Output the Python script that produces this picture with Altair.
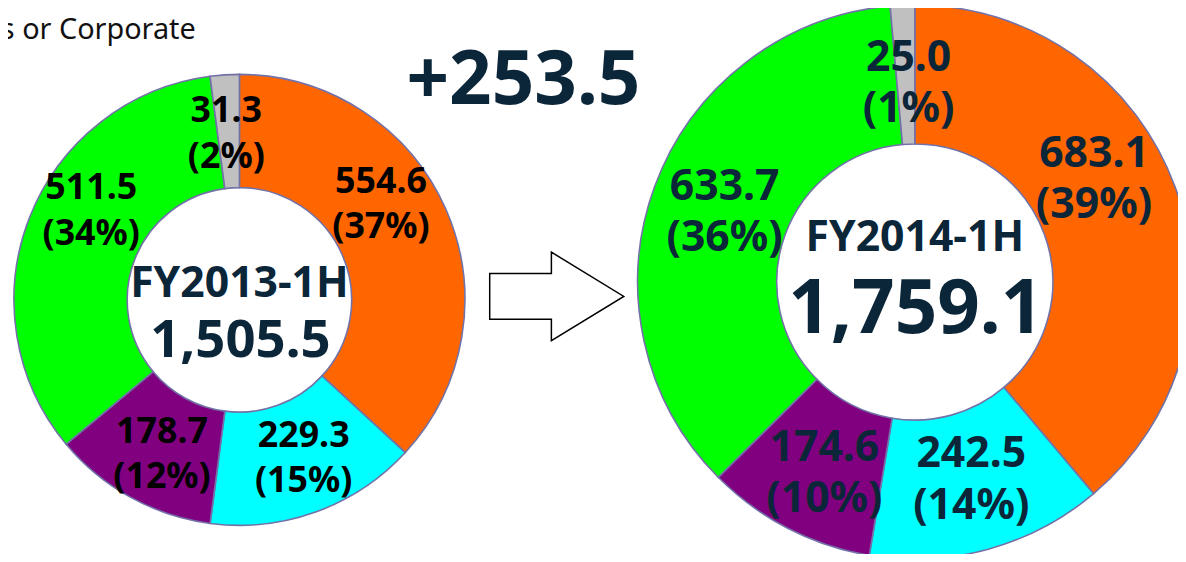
import altair as alt
import pandas as pd

# ---- data ----
segments = ["Orange", "Cyan", "Purple", "Green", "Gray"]
colors = ["#FF6600", "#00FFFF", "#800080", "#00FF00", "#C0C0C0"]
values_2013 = [554.6, 229.3, 178.7, 511.5, 31.3]
shares_2013 = [37, 15, 12, 34, 2]
values_2014 = [683.1, 242.5, 174.6, 633.7, 25.0]
shares_2014 = [39, 14, 10, 36, 1]
periods = ["FY2013-1H", "FY2014-1H"]
totals = [1505.5, 1759.1]
change = 253.5
legend_lines = ["Environment & Infrastructure", "Eliminations or Corporate"]

FONT = "Noto Sans"
NAVY = "#0B2539"
STROKE = "#7272A8"

rows = []
for period, vals, shares in [(periods[0], values_2013, shares_2013),
                             (periods[1], values_2014, shares_2014)]:
    for i, (seg, v, s) in enumerate(zip(segments, vals, shares)):
        rows.append({"period": period, "segment": seg, "idx": i, "value": v,
                     "label": f"{v:,.1f}\n({s}%)"})
df = pd.DataFrame(rows)

color_scale = alt.Scale(domain=segments, range=colors)

# label nudges (style), relative to the mid-angle position
NUDGE_LEFT = {"Orange": (-15, -27), "Cyan": (6, -2), "Purple": (5, 5), "Green": (11, -27), "Gray": (-2, 5)}
NUDGE_RIGHT = {"Orange": (-14, -32), "Cyan": (2, 0), "Purple": (4, 9), "Green": (3, 1), "Gray": (3, 7)}


def donut(period, cx, cy, r_out, r_in, r_lab, lab_size, lab_lh, lab_color, nudges, total,
          t_size, v_size, t_dy, v_dy):
    base = alt.Chart(df).transform_filter(alt.datum.period == period)
    arc = base.mark_arc(outerRadius=r_out, innerRadius=r_in, stroke=STROKE, strokeWidth=1.6).encode(
        theta=alt.Theta("value:Q", stack=True),
        color=alt.Color("segment:N", scale=color_scale, legend=None),
        order=alt.Order("idx:Q"),
        x=alt.value(cx), y=alt.value(cy),
    )
    lab_base = base.transform_window(
        cum="sum(value)", sort=[alt.SortField("idx", order="ascending")]
    ).transform_calculate(mid="datum.cum - datum.value / 2")
    labels = []
    for seg in segments:
        ndx, ndy = nudges[seg]
        labels.append(lab_base.transform_filter(alt.datum.segment == seg).mark_text(
            radius=r_lab, font=FONT, fontWeight="bold", fontSize=lab_size,
            lineBreak="\n", lineHeight=lab_lh, color=lab_color,
            align="center", baseline="middle", dx=ndx, dy=ndy - lab_lh / 2,
        ).encode(
            theta=alt.Theta("mid:Q", stack=False),
            text="label:N",
            x=alt.value(cx), y=alt.value(cy),
        ))
    center = pd.DataFrame({"t": [period], "v": [f"{total:,.1f}"]})
    ttl = alt.Chart(center).mark_text(font=FONT, fontWeight="bold", fontSize=t_size, color=NAVY,
                                      align="center", baseline="alphabetic").encode(
        text="t:N", x=alt.value(cx), y=alt.value(cy + t_dy))
    tot = alt.Chart(center).mark_text(font=FONT, fontWeight="bold", fontSize=v_size, color=NAVY,
                                      align="center", baseline="alphabetic").encode(
        text="v:N", x=alt.value(cx + 1), y=alt.value(cy + v_dy))
    return alt.layer(arc, *labels, ttl, tot)


left = donut(periods[0], 233, 292, 227, 113, 172, 36, 46, "#000000", NUDGE_LEFT,
             totals[0], 43, 53, -3, 58)
right = donut(periods[1], 913, 274, 279, 139, 207, 43, 52, NAVY, NUDGE_RIGHT,
              totals[1], 43, 75, -31, 51)

chg = alt.Chart(pd.DataFrame({"t": [f"+{change:.1f}"]})).mark_text(
    font=FONT, fontWeight="bold", fontSize=75, color=NAVY, align="center", baseline="alphabetic"
).encode(text="t:N", x=alt.value(519), y=alt.value(95))

arrow_path = "M-1,-0.34 L-0.08,-0.34 L-0.08,-0.66 L1,0 L-0.08,0.66 L-0.08,0.34 L-1,0.34 Z"
arrow = alt.Chart(pd.DataFrame({"a": [1]})).mark_point(
    shape=arrow_path, filled=True, fill="white", stroke="black", strokeWidth=1.5, opacity=1
).encode(x=alt.value(552.5), y=alt.value(288.5), size=alt.value(18225))

leg_df = pd.DataFrame({"t": legend_lines})
leg1 = alt.Chart(leg_df).transform_filter(alt.datum.t == legend_lines[0]).mark_text(
    font=FONT, fontSize=29, color="#111111", align="right", baseline="alphabetic"
).encode(text="t:N", x=alt.value(267), y=alt.value(-3))
leg2 = alt.Chart(leg_df).transform_filter(alt.datum.t == legend_lines[1]).mark_text(
    font=FONT, fontSize=29, color="#111111", align="right", baseline="alphabetic"
).encode(text="t:N", x=alt.value(189), y=alt.value(29))

chart = alt.layer(left, right, chg, arrow, leg1, leg2).resolve_scale(
    theta="independent"
).properties(
    width=1178, height=546, autosize=alt.AutoSizeParams(type="none"), padding=0
).configure_view(stroke=None)

chart.save("out.html", embed_options={"renderer": "svg", "actions": False})
